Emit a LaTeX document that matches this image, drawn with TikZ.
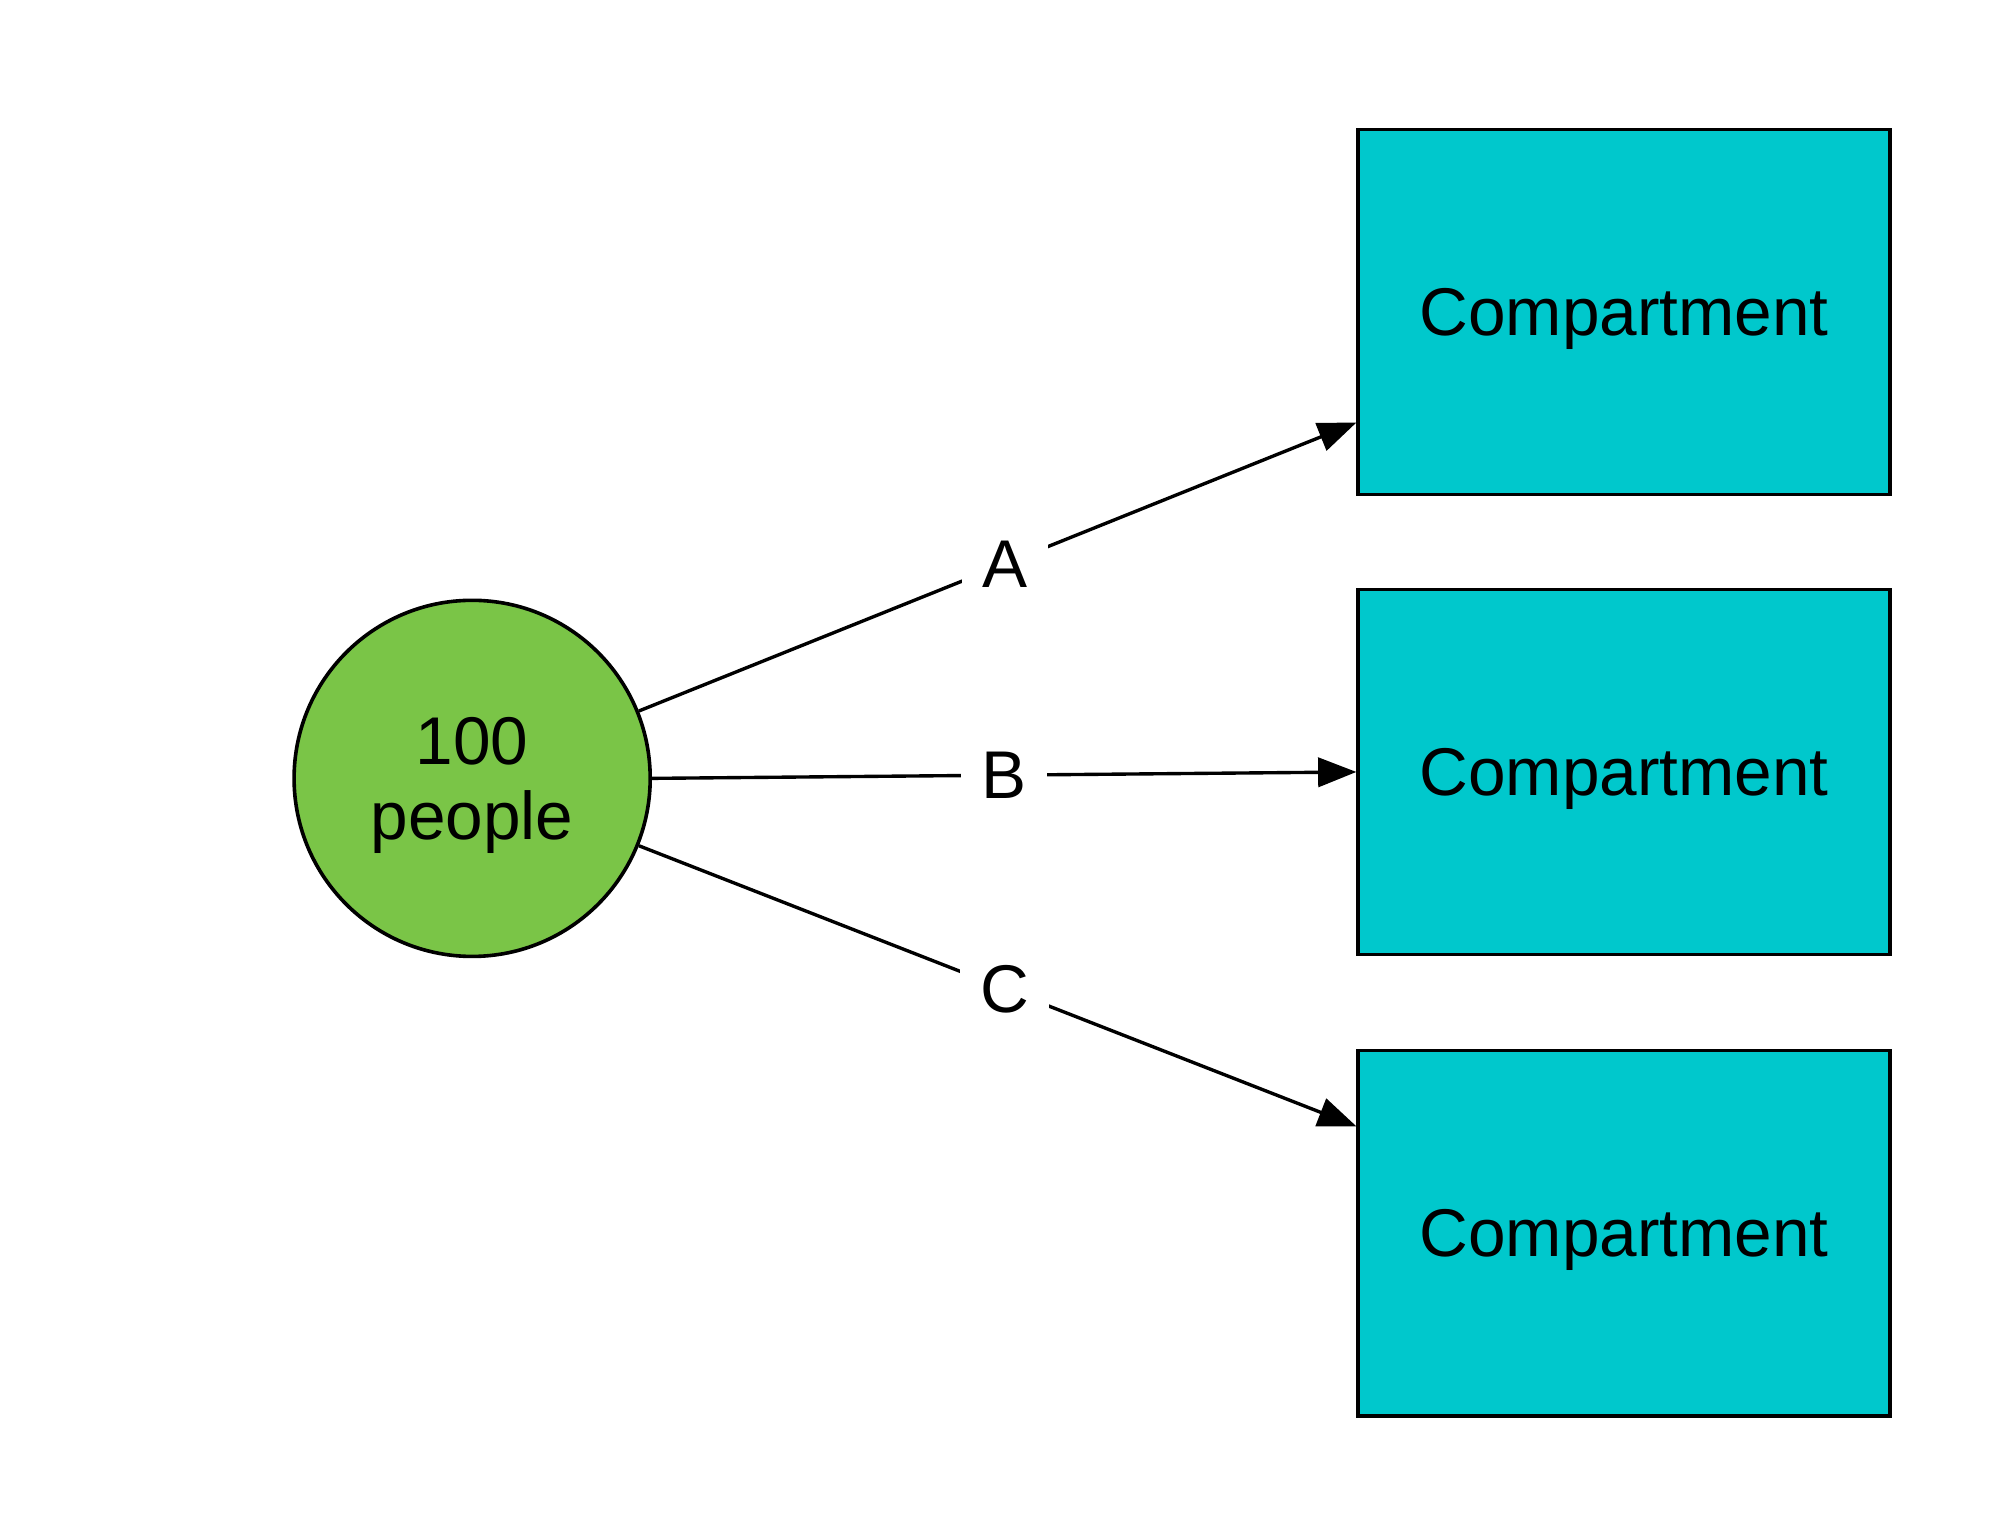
\documentclass[tikz,border=0pt]{standalone}
\usepackage{fontspec}
\setmainfont{Liberation Sans}
\usetikzlibrary{arrows.meta,calc}
\definecolor{pgreen}{RGB}{122,197,71}
\definecolor{ccyan}{RGB}{0,200,204}
\tikzset{
  people/.style={circle,draw=black,line width=1.6pt,fill=pgreen,minimum size=5.56cm,inner sep=0pt,align=center,text depth=0pt,font=\fontsize{30}{33}\selectfont},
  compbox/.style={rectangle,draw=black,line width=1.6pt,fill=ccyan,minimum width=8.3cm,minimum height=5.7cm,text depth=0pt,font=\fontsize{30}{36}\selectfont},
  flow/.style={draw=black,line width=1.5pt,-{Triangle[length=17pt,width=13pt]}},
  lbl/.style={fill=white,inner xsep=9pt,inner ysep=4pt,font=\fontsize{30}{36}\selectfont}
}
\begin{document}
\begin{tikzpicture}[x=0.02cm,y=-0.02cm]
\useasboundingbox[fill=white] (0,0) rectangle (1568,1200);
\node[people] (p) at (368.5,607.5) {100\\people};
\node[compbox] (c1) at (1267.5,243.5) {Compartment};
\node[compbox] (c2) at (1267.5,602.5) {Compartment};
\node[compbox] (c3) at (1267.5,962.5) {Compartment};
\coordinate (e1) at ($(c1.south west)!0.2!(c1.north west)$);
\coordinate (e2) at ($(c2.south west)!0.5!(c2.north west)$);
\coordinate (e3) at ($(c3.north west)!0.21!(c3.south west)$);
\draw[flow] (p.22) -- node[lbl,pos=0.51] {A} (e1);
\draw[flow] (p.0) -- node[lbl,pos=0.5] {B} (e2);
\draw[flow] (p.-22) -- node[lbl,pos=0.51] {C} (e3);
\end{tikzpicture}
\end{document}
